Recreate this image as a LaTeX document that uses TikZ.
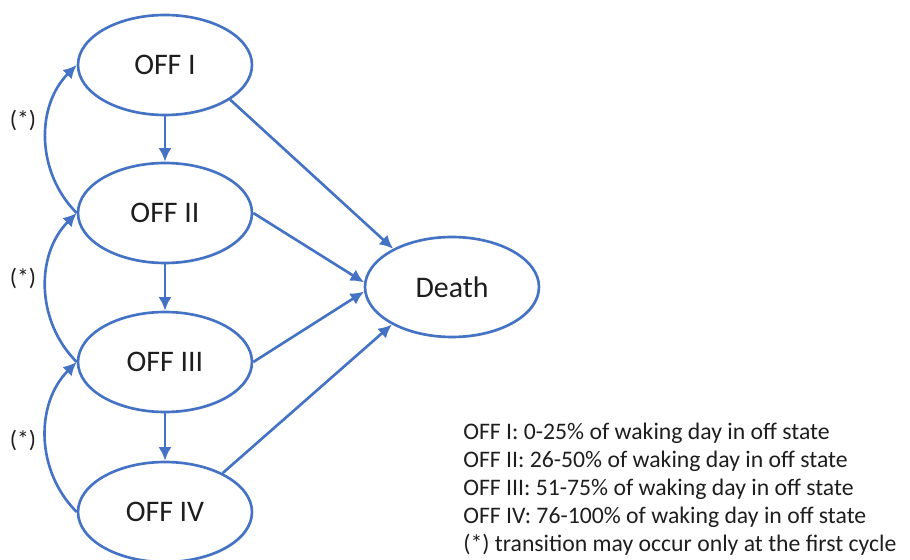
\documentclass[tikz,border=0pt]{standalone}
\usepackage{fontspec}
\setmainfont{Carlito}
\usetikzlibrary{arrows.meta,shapes.geometric,shadows}
\definecolor{stateBlue}{HTML}{4472C4}
\definecolor{inkGray}{HTML}{1E1E1E}

\begin{document}
\begin{tikzpicture}[x=0.02cm,y=-0.02cm,
    state/.style={ellipse,draw=stateBlue,line width=1.5pt,fill=white,
      minimum width=3.48cm,minimum height=2cm,inner sep=0pt,
      drop shadow={opacity=0.2,shadow xshift=0.6pt,shadow yshift=-0.8pt},
      font=\fontsize{17}{19}\selectfont,text=inkGray},
    trans/.style={-{Latex[length=2.7mm,width=2.6mm]},stateBlue,line width=1.5pt},
    note/.style={font=\fontsize{13.5}{15}\selectfont,text=inkGray}]
  \useasboundingbox (0,0) rectangle (910,560);

  % states
  \node[state] (off1) at (165,65) {OFF I};
  \node[state] (off2) at (165,213) {OFF II};
  \node[state] (off3) at (165,362) {OFF III};
  \node[state] (off4) at (165,512) {OFF IV};
  \node[state] (death) at (452,287) {Death};

  % worsening
  \draw[trans] (off1) -- (off2);
  \draw[trans] (off2) -- (off3);
  \draw[trans] (off3) -- (off4);

  % back transitions, first cycle only
  \draw[trans] (off2.west) to[bend left=45] (off1.west);
  \draw[trans] (off3.west) to[bend left=45] (off2.west);
  \draw[trans] (off4.west) to[bend left=45] (off3.west);
  \foreach \y/\nm in {120/s1,278/s2,440/s3} {
    \node[note] (\nm) at (23,\y) {(*)};
  }

  % to death
  \draw[trans] (off1.332) -- (death.147);
  \draw[trans] (off2.east) -- (death.177);
  \draw[trans] (off3.east) -- (death.183);
  \draw[trans] (off4.34) -- (death.212);

  % legend
  \foreach \y/\nm/\txt in {433/l1/{OFF I: 0-25\% of waking day in off state},
      461/l2/{OFF II: 26-50\% of waking day in off state},
      489/l3/{OFF III: 51-75\% of waking day in off state},
      517/l4/{OFF IV: 76-100\% of waking day in off state},
      545/l5/{(*) transition may occur only at the first cycle}} {
    \node[note,anchor=west,inner sep=0pt] (\nm) at (463,\y) {\txt};
  }
\end{tikzpicture}
\end{document}
